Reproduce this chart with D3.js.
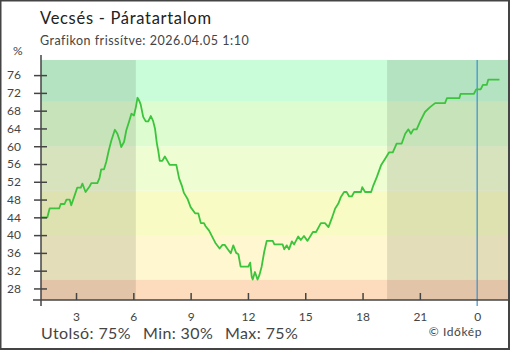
<!DOCTYPE html>
<html>
<head>
<meta charset="utf-8">
<script src="https://cdn.jsdelivr.net/npm/d3@7/dist/d3.min.js"></script>
<style>
  html, body { margin: 0; padding: 0; background: #fff; }
  svg { display: block; font-family: Lato, "Noto Sans", sans-serif; }
</style>
</head>
<body>
<svg id="chart" width="510" height="350"></svg>
<script>
// Relative humidity readings, Vecsés, 2026.04.04 01:10 – 2026.04.05 01:10
const times = [
  "01:10","01:30","01:37","02:07","02:12","02:24","02:30","02:40","02:45","02:56",
  "03:04","03:15","03:20","03:30","03:43","03:48","04:07","04:14","04:19","04:28",
  "04:35","04:43","04:51","05:02","05:10","05:17","05:22","05:31","05:38","05:46",
  "05:54","06:02","06:08","06:13","06:18","06:23","06:31","06:39","06:47","06:55",
  "07:02","07:08","07:14","07:18","07:23","07:31","07:39","07:47","07:54","08:15",
  "08:18","08:24","08:32","08:39","08:50","09:00","09:14","09:24","09:32","09:42",
  "09:47","09:58","10:08","10:19","10:31","10:40","10:47","10:55","11:06","11:14",
  "11:23","11:30","11:37","12:01","12:07","12:12","12:15","12:22","12:30","12:36",
  "12:43","12:51","12:59","13:18","13:23","13:49","13:54","14:02","14:09","14:18",
  "14:25","14:38","14:46","14:56","15:07","15:24","15:34","15:49","16:02","16:13",
  "16:23","16:34","16:44","16:52","17:02","17:10","17:18","17:26","17:34","17:55",
  "17:59","18:08","18:27","18:34","18:45","18:58","19:11","19:23","19:35","19:47",
  "20:03","20:14","20:24","20:32","20:40","20:50","21:01","21:16","21:32","21:48",
  "22:19","22:25","23:04","23:08","23:50","23:57","00:11","00:18","00:30","00:35",
  "01:10"
];
const humidity = [
  44,44,46,46,47,47,48,48,46.7,49,
  50.7,50.7,51.6,49.7,51,51.7,51.7,52.9,54.8,54.8,
  56.5,59.1,61.3,63.7,62.8,61.3,59.8,61,63.6,65.4,
  67.3,66.9,68.8,70.9,70.3,69.4,66.6,65.6,65.6,66.8,
  65.7,64,60.6,59.1,56.7,56.7,57.7,56.7,55.8,55.8,
  54.8,52.7,51.2,49.5,48.2,46.3,44.9,44.9,42.7,42.7,
  42,41,39.6,38.1,37,37.8,37.8,37,35.9,37.7,
  36,35.7,32.9,32.9,33.8,30.6,30,31.7,30,31,
  32.9,36.2,38.7,38.7,37.9,37.9,36.8,37.7,36.8,38.6,
  37.9,39.7,38.9,39.8,38.7,40.7,40.7,42.7,42.7,41.8,
  43.7,46,47.1,48.6,49.7,49.7,48.7,48.7,49.7,49.7,
  50.8,49.7,49.7,51.2,53.1,55.7,57.2,58.6,58.6,60.6,
  60.6,62.8,63.8,62.8,63.8,63.8,65.6,67.7,68.8,69.7,
  69.7,70.8,70.8,71.8,71.8,72.8,72.8,73.8,73.8,75,
  75
];

const yTicks = [28, 32, 36, 40, 44, 48, 52, 56, 60, 64, 68, 72, 76];
const xTickHours = [3, 6, 9, 12, 15, 18, 21, 0];

// Humidity bands (lower edges) and their fills
const bandEdges = [-Infinity, 30, 40, 50, 60, 70];
const bandColors = ["#fcdcbc", "#fef7cf", "#f8fcc4", "#effdd2", "#ddfdd0", "#c9fdd9"];

// Night periods (sunset to sunrise)
const nightSpans = [["01:10", "06:08"], ["19:17", "01:40"]];

const summary = { last: "Utolsó: 75%", min: "Min: 30%", max: "Max: 75%" };

// ---- time parsing with day rollover
function parseSeries(list) {
  let day = 4, prev = -1;
  return list.map(s => {
    const [h, m] = s.split(":").map(Number);
    const mins = h * 60 + m;
    if (mins < prev) day += 1;
    prev = mins;
    return new Date(2026, 3, day, h, m);
  });
}
const dates = parseSeries(times);
const data = dates.map((d, i) => ({ t: d, v: humidity[i] }));

const svg = d3.select("#chart");
const W = 510, H = 350;
const plotLeft = 41, plotRight = 509, plotTop = 60, plotBottom = 300;

const x = d3.scaleTime()
  .domain([new Date(2026, 3, 4, 1, 10), new Date(2026, 3, 5, 1, 40)])
  .range([plotLeft, plotRight]);
const y = d3.scaleLinear().domain([25.4, 79.4]).range([plotBottom, plotTop]);

// bands
const yMin = y.domain()[0], yMax = y.domain()[1];
bandEdges.forEach((lo, i) => {
  const a = Math.max(lo, yMin);
  const b = i + 1 < bandEdges.length ? Math.min(bandEdges[i + 1], yMax) : yMax;
  svg.append("rect")
    .attr("x", plotLeft).attr("width", plotRight - plotLeft)
    .attr("y", y(b)).attr("height", y(a) - y(b))
    .attr("fill", bandColors[i]);
});

// night shading
nightSpans.forEach(span => {
  const [s, e] = parseSeries(span);
  const x0 = Math.max(x(s), plotLeft), x1 = Math.min(x(e), plotRight);
  svg.append("rect")
    .attr("x", x0).attr("width", x1 - x0)
    .attr("y", plotTop).attr("height", plotBottom - plotTop)
    .attr("fill", "#000").attr("opacity", 0.1);
});

// midnight marker
const midnight = new Date(2026, 3, 5, 0, 0);
svg.append("line")
  .attr("x1", x(midnight)).attr("x2", x(midnight))
  .attr("y1", plotTop).attr("y2", plotBottom + 6)
  .attr("stroke", "#3a8fd2").attr("stroke-width", 1.2);

// humidity line
svg.append("path")
  .datum(data)
  .attr("fill", "none")
  .attr("stroke", "#3cc43c")
  .attr("stroke-width", 1.8)
  .attr("stroke-linejoin", "round")
  .attr("d", d3.line().x(d => x(d.t)).y(d => y(d.v)));

// x axis
const xTickDates = xTickHours.map(h => new Date(2026, 3, h === 0 ? 5 : 4, h, 0));
const xAxis = svg.append("g")
  .attr("transform", `translate(0,${plotBottom})`)
  .call(d3.axisBottom(x).tickValues(xTickDates)
    .tickFormat(d => String(d.getHours()))
    .tickSizeInner(-7).tickSizeOuter(0).tickPadding(12));
xAxis.select(".domain").remove();
xAxis.selectAll(".tick line").attr("stroke", "#444").attr("stroke-width", 1.5);
xAxis.selectAll(".tick")
  .filter(d => d.getTime() === midnight.getTime())
  .select("line").remove();
xAxis.selectAll("text").attr("fill", "#444").style("font-size", "12px")
  .style("font-family", "Lato, sans-serif");

// y axis
const yAxis = svg.append("g")
  .attr("transform", `translate(${plotLeft},0)`)
  .call(d3.axisLeft(y).tickValues(yTicks).tickSizeInner(7).tickSizeOuter(0).tickPadding(13));
yAxis.select(".domain").remove();
yAxis.selectAll(".tick line").attr("x2", -7).attr("x1", 6)
  .attr("stroke", "#444").attr("stroke-width", 1.5);
yAxis.selectAll("text").attr("fill", "#444").style("font-size", "12px")
  .style("font-family", "Lato, sans-serif");

// axis lines
svg.append("line").attr("x1", plotLeft).attr("x2", plotLeft).attr("y1", 55).attr("y2", 306)
  .attr("stroke", "#444").attr("stroke-width", 1.5);
svg.append("line").attr("x1", 33).attr("x2", plotRight).attr("y1", plotBottom).attr("y2", plotBottom)
  .attr("stroke", "#444").attr("stroke-width", 1.5);

// titles
svg.append("text").attr("x", 40).attr("y", 24)
  .attr("fill", "#222").style("font-size", "16.5px").style("letter-spacing", "0.7px")
  .text("Vecsés - Páratartalom");
svg.append("text").attr("x", 40).attr("y", 45)
  .attr("fill", "#444").style("font-size", "12.5px").style("letter-spacing", "0.5px")
  .text("Grafikon frissítve: 2026.04.05 1:10");
svg.append("text").attr("x", 13).attr("y", 55)
  .attr("fill", "#444").style("font-size", "12px").text("%");

// summary
const sy = 339;
[[41, summary.last], [143, summary.min], [225, summary.max]].forEach(([sx, t]) => {
  svg.append("text").attr("x", sx).attr("y", sy).attr("fill", "#444")
    .style("font-size", "16px").style("letter-spacing", "0.4px").text(t);
});
svg.append("text").attr("x", 482).attr("y", 336).attr("text-anchor", "end")
  .attr("fill", "#444").style("font-size", "12px").style("letter-spacing", "0.6px")
  .text("© Időkép");

// frame
svg.append("path")
  .attr("d", `M0.5,0 V${H} M0,0.5 H${W} M${W - 1},0 V${H} M0,${H - 1} H${W}`)
  .attr("stroke", "#444").attr("stroke-width", 2).attr("fill", "none");
</script>
</body>
</html>
